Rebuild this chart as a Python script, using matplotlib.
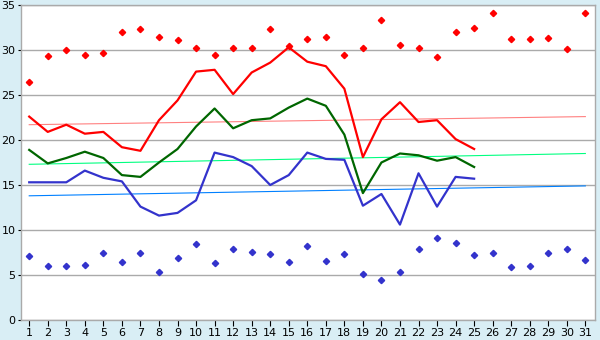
# Daily temperatures: mean lines, record points and trend lines
import matplotlib.pyplot as plt

days = list(range(1, 32))
days_obs = list(range(1, 26))

# record highs / lows (points)
rec_max = [26.5, 29.3, 30.0, 29.5, 29.7, 32.0, 32.3, 31.4, 31.1, 30.2,
           29.5, 30.2, 30.2, 32.3, 30.4, 31.2, 31.5, 29.4, 30.2, 33.3,
           30.6, 30.2, 29.2, 32.0, 32.4, 34.1, 31.2, 31.2, 31.3, 30.1, 34.1]
rec_min = [7.1, 6.0, 6.0, 6.1, 7.5, 6.5, 7.4, 5.3, 6.9, 8.4,
           6.3, 7.85, 7.6, 7.3, 6.5, 8.2, 6.6, 7.3, 5.1, 4.5,
           5.3, 7.85, 9.1, 8.6, 7.2, 7.5, 5.85, 6.0, 7.4, 7.85, 6.7]

# observed values (lines)
t_max = [22.6, 20.9, 21.7, 20.7, 20.9, 19.2, 18.8, 22.2, 24.4, 27.6,
         27.8, 25.1, 27.5, 28.6, 30.3, 28.7, 28.2, 25.7, 18.1, 22.3,
         24.2, 22.0, 22.2, 20.1, 19.0]
t_mean = [18.9, 17.4, 18.0, 18.7, 18.0, 16.1, 15.9, 17.5, 19.0, 21.5,
          23.5, 21.3, 22.2, 22.4, 23.6, 24.6, 23.8, 20.6, 14.1, 17.5,
          18.5, 18.3, 17.7, 18.1, 17.0]
t_min = [15.3, 15.3, 15.3, 16.6, 15.8, 15.4, 12.6, 11.6, 11.9, 13.3,
         18.6, 18.1, 17.1, 15.0, 16.1, 18.6, 17.9, 17.8, 12.7, 14.0,
         10.6, 16.3, 12.6, 15.9, 15.7]

# trend lines (start / end values over the month)
trend_x = [1, 31]
trend_max = [21.7, 22.6]
trend_mean = [17.3, 18.5]
trend_min = [13.8, 14.9]

bg = '#d9eef5'
fig = plt.figure(figsize=(6, 3.4), dpi=100, facecolor=bg)
ax = fig.add_axes([20.5 / 600, 20 / 340, 574.5 / 600, 315 / 340])
ax.set_facecolor('white')

ax.plot(trend_x, trend_max, color='#ff8080', lw=0.8)
ax.plot(trend_x, trend_mean, color='#00ff80', lw=0.8)
ax.plot(trend_x, trend_min, color='#0080ff', lw=0.8)

ax.plot(days_obs, t_max, color='#ff0000', lw=1.6)
ax.plot(days_obs, t_mean, color='#006600', lw=1.6)
ax.plot(days_obs, t_min, color='#3333cc', lw=1.6)

ax.plot(days, rec_max, 'D', color='#ff0000', ms=3.2, lw=0)
ax.plot(days, rec_min, 'D', color='#3333cc', ms=3.2, lw=0)

ax.set_xlim(0.53, 31.52)
ax.set_ylim(0, 35)
ax.set_xticks(days)
ax.set_yticks(range(0, 36, 5))
ax.yaxis.grid(True, color='#aaaaaa', lw=1)
ax.set_axisbelow(True)

for s in ax.spines.values():
    s.set_color('#aaaaaa')
    s.set_linewidth(1)

ax.tick_params(axis='x', labelsize=8, colors='black', length=4, width=0.8,
               direction='out', pad=2)
ax.tick_params(axis='y', labelsize=8, colors='black', length=2, width=0.8,
               direction='out', pad=1.5)

fig.savefig('out.png', dpi=100, facecolor=bg)
